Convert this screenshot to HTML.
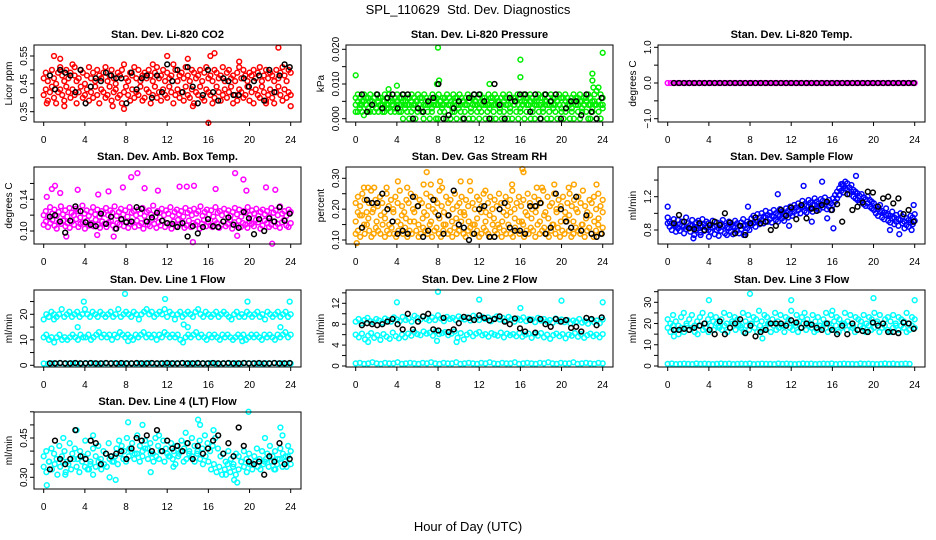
<!DOCTYPE html>
<html><head><meta charset="utf-8"><style>
html,body{margin:0;padding:0;background:#fff;}
svg{display:block;font-family:"Liberation Sans",sans-serif;}
</style></head><body>
<svg id="chart" width="936" height="540" viewBox="0 0 936 540">
<rect x="0" y="0" width="936" height="540" fill="#fff"/>
<text x="468" y="14" text-anchor="middle" font-size="13">SPL_110629&#160; Std. Dev. Diagnostics</text>
<text x="468" y="531" text-anchor="middle" font-size="13">Hour of Day (UTC)</text>
</svg>
<script>
// ---- data (values per panel) ----
const co2A=[.47,.49,.46,.48,.50,.47,.45,.49,.51,.48,.46,.50,.47,.49,.52,.48,.46,.47,.50,.49,.45,.48,.51,.47,.49,.46,.50,.48,.47,.49,.51,.46,.48,.50,.47,.45,.49,.48,.50,.52,.47,.46,.49,.48,.51,.47,.50,.46,.48,.49,.47,.50,.48,.46,.49,.51,.47,.48,.50,.46,.49,.47,.48,.52,.50,.46,.48,.49,.47,.51,.48,.46,.50,.49,.47,.48,.50,.46,.49,.51,.47,.48,.46,.50,.49,.47,.48,.51,.46,.49,.50,.47,.48,.46,.49,.51,.47,.50,.48,.46,.49,.48,.50,.47,.49,.51,.46,.48,.50,.47,.49,.48,.46,.50,.47,.49,.51,.48,.46,.50,.49];
const co2B=[.41,.43,.39,.42,.44,.40,.38,.42,.43,.41,.39,.44,.42,.40,.43,.41,.38,.42,.44,.40,.41,.43,.39,.42,.40,.44,.41,.38,.43,.42,.40,.41,.44,.39,.42,.43,.40,.41,.38,.42,.44,.41,.39,.43,.40,.42,.41,.44,.39,.40,.43,.42,.38,.41,.44,.40,.42,.39,.43,.41,.40,.44,.42,.38,.41,.43,.40,.42,.39,.44,.41,.40,.43,.38,.42,.41,.44,.40,.39,.43,.42,.41,.38,.40,.44,.42,.39,.41,.43,.40,.42,.44,.38,.41,.39,.43,.42,.40,.41,.44,.39,.42,.38,.43,.41,.40,.44,.42,.39,.41,.43,.40,.38,.42,.44,.41,.39,.43,.40,.42,.41];
const co2OutT=[1,1.6,0.3,2,3,6.7,7.8,10.6,12,14,16,16.2,16.6,22.8,24,19,14.5,21.6];
const co2OutV=[.55,.54,.38,.37,.51,.37,.36,.52,.55,.54,.31,.55,.56,.58,.37,.53,.37,.38];
const co2Blk=[.48,.43,.50,.49,.48,.42,.50,.38,.44,.47,.46,.49,.48,.47,.47,.38,.49,.43,.47,.48,.40,.48,.42,.52,.46,.50,.42,.51,.44,.38,.41,.50,.42,.39,.47,.46,.41,.41,.47,.44,.46,.48,.39,.50,.42,.48,.52,.51];

const presA=[.006,.007,.006,.005,.007,.006,.006,.007,.005,.006,.007,.006,.006,.005,.007,.006,.007,.006,.005,.006,.007,.006,.006,.007,.005,.006,.006,.007,.006,.005,.007,.006,.006,.007,.006,.005,.006,.007,.006,.006,.007,.005,.006,.006,.007,.006,.005,.007,.006,.006,.007,.006,.005,.006,.007,.006,.006,.007,.005,.006,.007,.006,.006,.005,.007,.006,.006,.007,.006,.005,.006,.007,.006,.006,.007,.005,.006,.006,.007,.006,.005,.007,.006,.006,.007,.006,.005,.006,.007,.006,.006,.007,.005,.006,.007,.006,.006,.005,.007,.006,.006,.007,.006,.005,.006,.007,.006,.006,.007,.005,.006,.006,.007,.006,.005,.007,.008,.009,.007,.006];
const presB=[.002,.002,.004,.002,.001,.004,.002,.002,.004,.002,.003,.002,.004,.002,.002,.004,.003,.002,.004,.002,.004,.002,.002,0,.004,.002,0,.002,.004,0,.002,.004,.002,0,.004,.002,0,.002,.004,0,0,.002,.004,.002,0,.004,0,.002,.002,0,.004,.002,0,.002,.004,0,.002,0,.004,.002,0,.002,.004,0,.002,.004,0,.002,0,.004,.002,0,.002,.004,0,.002,0,.004,.002,0,.002,.004,0,.002,.004,0,.002,0,.004,.002,0,.002,.004,0,.002,0,.004,.002,0,.004,.002,0,.002,.004,0,.002,0,.004,.002,0,.002,.004,.002,0,0,.002,.004,0,.002,0,.003];
const presC=[.004,.005,.003,.004,.005,.004,.003,.005,.004,.004,.003,.005,.004,.004,.005,.003,.004,.005,.004,.003,.005,.004,.004,.005,.003,.004,.004,.005,.003,.004,.005,.004,.003,.004,.005,.004,.004,.003,.005,.004,.004,.005,.003,.004,.005,.004,.004,.003,.005,.004,.003,.004,.005,.004,.004,.005,.003,.004,.005,.004,.003,.004,.005,.004,.004,.003,.005,.004,.004,.005,.003,.004,.005,.004,.004,.003,.005,.004,.005,.004,.003,.004,.005,.004,.004,.005,.003,.004,.005,.004,.004,.003,.005,.004,.004,.005,.003,.004,.005,.004,.003,.004,.005,.004,.004,.003,.005,.004,.004,.005,.003,.004,.005,.004,.004,.003,.005,.004,.005,.004,.004];
const presOutT=[0,3.2,4,8,8.1,16,16,23,23,23.1,24,7.9,13];
const presOutV=[.0125,.0085,.0095,.0205,.011,.017,.012,.013,.011,.009,.019,.010,.010];
const presBlk=[.007,.002,.004,.007,.003,.006,.007,.003,.007,.007,0,.003,.002,.005,.006,.010,0,.001,.003,.005,0,.006,.007,.007,.005,0,.010,.004,0,.006,.005,.007,.007,.002,.007,0,.007,.005,.007,0,.003,.005,.005,.001,.007,.002,0,.006];

const tempMag=[0,0,0,0,0,0,0,0,0,0,0,0,0,0,0,0,0,0,0,0,0,0,0,0,0,0,0,0,0,0,0,0,0,0,0,0,0,0,0,0,0,0,0,0,0,0,0,0,0,0,0,0,0,0,0,0,0,0,0,0,0,0,0,0,0,0,0,0,0,0,0,0,0,0,0,0,0,0,0,0];
const tempBlk=[0,0,0,0,0,0,0,0,0,0,0,0,0,0,0,0,0,0,0,0,0,0,0,0,0,0,0,0,0,0,0,0,0,0,0,0,0,0,0,0,0,0,0,0,0,0,0,0];

const ambA=[.120,.125,.118,.130,.122,.127,.119,.124,.131,.121,.126,.118,.129,.123,.120,.128,.125,.117,.132,.122,.126,.119,.124,.130,.121,.127,.118,.125,.122,.129,.120,.126,.123,.131,.119,.124,.128,.121,.126,.118,.130,.123,.125,.120,.127,.122,.129,.119,.124,.126,.121,.132,.118,.125,.123,.128,.120,.126,.122,.130,.119,.124,.127,.121,.125,.118,.129,.123,.126,.120,.128,.122,.125,.131,.119,.124,.127,.121,.126,.118,.130,.123,.125,.120,.128,.122,.126,.119,.124,.129,.121,.127,.118,.125,.123,.130,.120,.126,.122,.128,.119,.124,.127,.121,.125,.118,.129,.123,.126,.120,.131,.122,.125,.119,.127,.124];
const ambB=[.108,.112,.105,.110,.114,.107,.103,.111,.109,.113,.106,.110,.104,.112,.108,.115,.105,.109,.111,.103,.113,.107,.110,.106,.114,.108,.104,.112,.109,.105,.111,.113,.107,.103,.110,.108,.114,.106,.112,.104,.109,.111,.105,.113,.107,.110,.103,.112,.108,.106,.114,.109,.104,.111,.107,.113,.105,.110,.108,.103,.112,.106,.114,.109,.111,.104,.107,.113,.105,.110,.108,.112,.103,.109,.114,.106,.111,.107,.105,.113,.110,.104,.108,.112,.106,.109,.114,.103,.111,.107,.113,.105,.110,.108,.104,.112,.109,.106,.114,.111,.103,.107,.113,.110,.105,.108,.112,.106,.109,.104,.111,.114,.107,.105,.110];
const ambOutT=[0.3,0.8,1.1,1.6,2.2,3.3,5.3,6.3,7.7,8.5,9.1,9.8,11.1,13.2,13.9,14.6,16.7,18.6,18.8,19.4,19.7,21.6,22.2,22.5,14.5,6.8,5.2];
const ambOutV=[.143,.153,.157,.148,.093,.152,.146,.150,.155,.168,.173,.154,.151,.156,.156,.157,.153,.173,.094,.165,.151,.155,.084,.152,.086,.093,.095];
const ambBlk=[.118,.120,.112,.098,.113,.131,.125,.111,.108,.106,.122,.109,.118,.103,.115,.111,.112,.130,.128,.112,.117,.123,.113,.110,.109,.105,.110,.093,.106,.097,.105,.115,.106,.105,.112,.117,.108,.104,.124,.116,.096,.115,.100,.116,.112,.130,.113,.122];

const rhA=[.22,.24,.21,.25,.23,.19,.22,.26,.20,.23,.21,.24,.22,.19,.25,.21,.23,.20,.24,.22,.26,.21,.19,.23,.22,.25,.20,.24,.21,.23,.22,.19,.25,.21,.24,.20,.23,.22,.26,.21,.19,.24,.22,.23,.20,.25,.21,.22,.24,.19,.23,.21,.26,.22,.20,.24,.23,.21,.25,.19,.22,.24,.20,.23,.21,.25,.22,.19,.24,.21,.23,.26,.20,.22,.24,.21,.23,.19,.25,.22,.20,.24,.21,.23,.22,.26,.19,.24,.21,.22,.25,.20,.23,.21,.24,.19,.22,.25,.21,.23,.20,.24,.22,.26,.21,.19,.23,.22,.24,.20,.25,.21,.23];
const rhB=[.12,.13,.11,.14,.12,.15,.13,.11,.12,.14,.13,.12,.15,.11,.13,.12,.14,.12,.11,.13,.15,.12,.14,.11,.13,.12,.16,.13,.11,.12,.14,.13,.12,.15,.11,.13,.14,.12,.11,.13,.15,.12,.13,.11,.14,.12,.13,.16,.12,.11,.13,.14,.12,.15,.13,.11,.12,.14,.13,.12,.11,.15,.13,.12,.14,.11,.13,.12,.15,.12,.11,.14,.13,.12,.16,.11,.13,.12,.14,.13,.11,.15,.12,.13,.14,.12,.11,.13,.15,.12,.14,.11,.13,.12,.16,.13,.11,.12,.14,.13,.12,.15,.11,.13,.14,.12,.11,.13,.15,.12,.14];
const rhC=[.16,.18,.15,.17,.19,.16,.18,.17,.15,.19,.16,.18,.17,.16,.19,.15,.17,.18,.16,.19,.17,.15,.18,.16,.17,.19,.18,.16,.15,.17,.19,.16,.18,.17,.15,.16,.18,.19,.17,.16,.15,.18,.17,.19,.16,.18,.17,.15,.19,.16,.17,.18,.16,.19,.15,.17,.18,.16,.17,.19];
const rhOutT=[0.1,0.2,0.6,0.8,1.2,1.8,3,4.1,5,6.6,6.9,7.3,8.2,8.4,10.2,11.1,12.6,15.2,16.2,16.3,17.6,18.1,19.3,20.7,21.2,23.4];
const rhOutV=[.09,.19,.18,.27,.27,.27,.27,.29,.27,.28,.32,.28,.29,.27,.29,.29,.26,.28,.33,.32,.27,.27,.28,.27,.28,.28];
const rhBlk=[.14,.23,.22,.22,.25,.20,.16,.12,.13,.12,.24,.21,.11,.13,.23,.18,.12,.18,.26,.15,.14,.10,.12,.20,.21,.11,.11,.20,.22,.14,.13,.13,.12,.21,.21,.22,.12,.14,.25,.20,.16,.14,.24,.13,.18,.12,.11,.12];

const flowA=[.95,.90,.88,.93,.85,.92,.87,.90,.84,.95,.88,.86,.92,.83,.89,.91,.85,.93,.87,.90,.88,.86,.91,.84,.89,.82,.88,.92,.85,.83,.90,.87,.84,.91,.88,.85,.89,.93,.86,.90,.88,.94,.97,.92,.99,.95,1.00,.96,1.03,.98,1.01,.97,1.04,1.00,.98,1.05,1.02,.99,1.06,1.03,1.08,1.05,1.10,1.07,1.12,1.08,1.15,1.11,1.09,1.16,1.13,1.10,1.18,1.14,1.12,1.17,1.15,1.19,1.13,1.16,1.12,1.18,1.22,1.26,1.30,1.35,1.33,1.38,1.36,1.31,1.34,1.28,1.26,1.24,1.21,1.23,1.19,1.17,1.20,1.16,1.14,1.12,1.08,1.05,1.10,1.03,1.01,1.06,.99,.97,1.02,.95,.98,.93,1.00,.96,.90,.94,.92,.97,.95,.99];
const flowB=[.88,.84,.80,.86,.78,.82,.79,.85,.76,.81,.83,.78,.85,.74,.80,.82,.77,.84,.79,.83,.80,.78,.83,.75,.80,.73,.79,.84,.76,.74,.82,.78,.75,.83,.79,.76,.81,.85,.77,.82,.80,.86,.88,.84,.90,.87,.92,.88,.95,.90,.93,.89,.96,.92,.90,.97,.94,.91,.98,.95,1.00,.97,1.02,.99,1.04,1.00,1.07,1.03,1.01,1.08,1.05,1.02,1.10,1.06,1.04,1.09,1.07,1.11,1.05,1.08,1.04,1.10,1.14,1.18,1.22,1.27,1.25,1.30,1.28,1.23,1.26,1.20,1.18,1.16,1.13,1.15,1.11,1.09,1.12,1.08,1.06,1.04,1.00,.97,1.02,.95,.93,.98,.91,.89,.94,.87,.90,.85,.92,.88,.82,.86,.84,.89,.87,.91];
const flowOutT=[0,2.5,3.2,4,7.4,7.8,10.7,13.2,15,16.1,15.5,17,18.3,21.6,22.5,23.7,23.9,11.8,14];
const flowOutV=[1.08,.70,.74,.72,.74,1.08,1.23,1.33,1.38,.82,.94,1.35,1.45,.80,.75,.80,1.10,.85,.90];
const flowBlk=[.88,.98,.90,.82,.81,.88,.80,.86,.90,.86,1.00,.89,.76,.85,.74,.88,.95,.88,.90,.80,.85,1.04,.97,1.07,.93,1.10,.94,1.06,1.03,1.10,1.14,1.04,1.11,.90,1.23,1.04,1.08,1.13,1.26,1.25,1.08,1.18,1.20,1.12,1.18,.99,1.04,.90];

const l1High=[18,20,19,21,20,19,20,22,19,20,21,19,20,21,19,20,22,20,19,21,20,19,21,20,19,20,21,19,20,22,19,20,21,20,19,21,20,18,20,21,22,20,21,19,20,21,20,22,19,21,20,18,20,21,19,20,21,20,19,21,22,20,19,21,20,19,20,21,19,20,21,20,19,18,20,21,19,20,19,21,20,19,20,21,19,20,18,21,20,19,20,21,19,20,21,19,20];
const l1Mid=[11,12,10,11,9,11,12,10,11,10,11,12,11,10,12,11,11,12,10,11,12,13,11,12,11,12,10,12,11,13,12,11,12,11,10,12,11,12,13,11,12,11,12,10,12,11,13,12,11,12,11,12,10,9,11,12,11,12,13,11,12,11,10,12,11,12,11,10,12,11,12,11,10,11,12,11,12,10,11,12,11,12,11,10,12,11,12,11,10,12,11,12,13,11,12];
const l1Zero=[0.7,0.6,0.8,0.7,0.9,0.6,0.7,0.8,0.7,0.6,0.9,0.7,0.8,0.6,0.7,0.8,0.7,0.9,0.6,0.7,0.8,0.7,0.6,0.8,0.7,0.9,0.7,0.6,0.8,0.7,0.7,0.8,0.6,0.9,0.7,0.8,0.7,0.6,0.8,0.7,0.9,0.7,0.6,0.8,0.7,0.7,0.8,0.6,0.9,0.7,0.8,0.7,0.6,0.8,0.7,0.9,0.7,0.8,0.6,0.7];
const l1OutT=[3.3,3.9,7.9,11.8,13.6,14,19.8,23,23.9,1,8.2,19.3];
const l1OutV=[15,25,28,26,16,15,25,15,25,18,9.5,9.5];
const l1Blk=[0.8,0.8,0.9,0.8,0.8,0.9,0.8,0.8,0.9,0.8,0.8,0.9,0.8,0.8,0.9,0.8,0.8,0.9,0.8,0.8,0.9,0.8,0.8,0.9,0.8,0.8,0.9,0.8,0.8,0.9,0.8,0.8,0.9,0.8,0.8,0.9,0.8,0.8,0.9,0.8,0.8,0.9,0.8,0.8,0.9,0.8,0.8,0.9];

const l2High=[8.5,9,8.2,8.8,9.2,8.6,8.4,9,8.7,8.3,9.1,8.8,8.5,9.3,8.9,8.6,9.4,8.8,9.1,8.5,9.6,9.2,8.9,9.5,9,8.7,9.3,8.8,9.7,9.1,8.6,9.4,9,9.2,8.8,9.5,9.1,8.9,9.3,8.7,9.6,9.2,8.8,9.4,9,9.3,8.6,9.1,9.5,8.9,9.2,8.7,9.4,9,8.5,9.1,8.8,9.3,8.6,9,8.9,8.4,9.2,8.7,9,8.5,8.8,8.3,9.1,8.6,8.9,8.4,8.8,8.2,8.7,8.5,9,8.3,8.6,8.1,8.8,8.4,8.7,8.2,8.9];
const l2Mid=[6,5.5,6.2,5.1,5.8,6.3,5.4,5.9,5,6.1,5.6,5.2,6.4,5.7,5.3,6,5.5,6.2,5.8,6.5,6.1,5.9,6.6,6.2,6.4,5.8,6.7,6.1,6.3,6.5,5.9,6.2,6.6,5.4,6.3,5.1,6,6.4,5.7,6.2,6.5,5.9,6.1,5.6,6.3,6,5.8,6.4,5.5,6.2,5.9,6.1,5.7,6.3,5.6,6,6.2,5.4,6.1,5.8,6.3,5.5,6,5.2,5.9,6.2,5.7,6.1,5.3,6,5.8,6.3,5.6,6.1,5.4,5.9,6.2,5.7,6,5.5,6.1];
const l2Zero=[0.5,0.6,0.4,0.5,0.7,0.5,0.4,0.6,0.5,0.5,0.7,0.4,0.5,0.6,0.5,0.4,0.6,0.5,0.7,0.5,0.4,0.6,0.5,0.5,0.7,0.4,0.5,0.6,0.5,0.4,0.6,0.5,0.7,0.5,0.4,0.6,0.5,0.5,0.7,0.4,0.5,0.6,0.5,0.4,0.6,0.5,0.7,0.5,0.4,0.6,0.5,0.5,0.7,0.4,0.5,0.6,0.5,0.4,0.6,0.5];
const l2OutT=[4,8,12,16,20,24,7.9,9.8,1.2];
const l2OutV=[12.2,14.2,12.7,11.1,12.5,12.2,4.8,4.6,4.6];
const l2Blk=[7.8,8.2,8,7.8,8,8.5,9,8,7,10,7,8.5,9.5,10,7,6.8,9.2,6.5,7,8.2,9.4,9.2,8.8,9.7,9.2,8.7,9,9.5,8.5,8,9.1,7.2,6.6,8.8,6.4,9,8,7.5,9,8.5,8.8,7.3,7.5,6.6,9.2,9,7.8,9.3];

const l3A=[22,20,24,21,19,23,25,20,22,24,19,21,23,25,20,22,24,21,23,19,22,25,20,24,21,23,22,19,25,21,24,20,23,22,26,21,24,23,20,22,25,21,24,19,23,22,26,20,24,21,23,25,22,20,24,21,23,19,22,25,20,24,21,23,22,20,25,21,24,19,23,22,21,24,20,23,22,25,21,24,20,22,23,21,24,19,23,22,21,25,20,23,22];
const l3B=[18,16,19,17,15,18,16,19,17,18,16,15,19,17,18,16,19,17,20,18,17,19,16,18,20,17,19,18,16,19,17,20,18,16,19,17,18,20,16,19,17,18,19,16,20,18,17,19,16,18,20,17,19,18,16,17,19,18,20,16,18,17,19,16,18,20,17,19,18,16,17,19,18,16,19,17,18,20,16,18,19,17,16,18,20,17,19,18,16,17,19,18];
const l3Zero=[1,1.2,0.9,1,1.1,1,0.9,1.2,1,1.1,1,0.9,1,1.2,1,1.1,0.9,1,1.1,1,1.2,0.9,1,1.1,1,1,0.9,1.2,1,1.1,1,0.9,1,1.2,1,1.1,0.9,1,1.1,1,1.2,0.9,1,1.1,1,1,0.9,1.2,1,1.1,1,0.9,1,1.2,1,1.1,0.9,1,1.1,1];
const l3OutT=[4,8,12,16,20,24,0.6,9.2];
const l3OutV=[31,34,31,26,32,31,14,13];
const l3Blk=[17,17,17.5,17,18,19,20,17,15,21,15,18,20,22,15.5,19,14,16,17,20,20,20,19,21.5,20.5,18,20,19.5,18,17,20,17,15,19,15,20,17,16.5,16,20.5,19,20,16,16,15.5,20.5,20,17.5];

const l4A=[.38,.40,.36,.41,.39,.37,.42,.38,.40,.36,.43,.39,.41,.37,.40,.38,.44,.39,.36,.41,.38,.42,.37,.40,.39,.43,.38,.36,.41,.44,.42,.40,.45,.41,.43,.39,.46,.42,.40,.44,.41,.43,.39,.45,.42,.40,.44,.41,.38,.43,.40,.42,.39,.44,.41,.43,.40,.45,.42,.39,.44,.41,.46,.43,.40,.42,.45,.41,.38,.39,.36,.40,.37,.35,.39,.38,.36,.40,.37,.39,.35,.38,.41,.37,.40,.36,.39,.42,.38,.40,.37,.41,.39,.38,.42,.40];
const l4B=[.34,.32,.36,.33,.35,.31,.34,.36,.32,.35,.33,.37,.34,.32,.36,.34,.33,.35,.31,.34,.36,.33,.35,.34,.37,.36,.38,.35,.39,.37,.36,.38,.40,.37,.39,.36,.38,.41,.37,.39,.36,.38,.37,.40,.36,.39,.38,.37,.35,.38,.40,.36,.37,.39,.38,.36,.40,.37,.35,.38,.36,.33,.35,.32,.34,.31,.33,.35,.32,.34,.31,.33,.36,.34,.32,.35,.33,.36,.34,.33,.35,.37,.34,.36,.33,.35,.37,.34,.36,.38,.35];
const l4OutT=[0.3,1.9,2.1,3.2,4.4,4.8,6.4,7,8.2,9.6,10.4,11.2,12.6,13.8,15,15.2,16.5,17.7,18.5,18.8,19.9,21.5,22.5,23,23.2,23.6];
const l4OutV=[.27,.45,.31,.48,.33,.46,.30,.29,.51,.50,.32,.46,.34,.47,.52,.50,.48,.31,.29,.28,.55,.45,.33,.49,.46,.34];
const l4Blk=[.33,.44,.37,.35,.37,.48,.38,.37,.44,.43,.35,.39,.38,.39,.40,.37,.41,.45,.44,.46,.40,.48,.40,.44,.41,.42,.40,.43,.37,.42,.39,.41,.44,.46,.39,.43,.38,.49,.42,.36,.35,.36,.31,.38,.36,.43,.35,.37];

// tick labels per panel
const xTicks=[0,4,8,12,16,20,24];
const co2Ticks=[.35,.40,.45,.50,.55], co2Labels=["0.35","","0.45","","0.55"];
const presTicks=[0,.005,.010,.015,.020], presLabels=["0.000","","0.010","","0.020"];
const tempTicks=[-1,-.5,0,.5,1], tempLabels=["\u22121.0","","0.0","","1.0"];
const ambTicks=[.10,.12,.14,.16], ambLabels=["0.10","","0.14",""];
const rhTicks=[.10,.15,.20,.25,.30], rhLabels=["0.10","","0.20","","0.30"];
const flowTicks=[.8,1.0,1.2,1.4], flowLabels=["0.8","","1.2",""];
const l1Ticks=[0,5,10,15,20,25], l1Labels=["0","","10","","20",""];
const l2Ticks=[0,2,4,6,8,10,12,14], l2Labels=["0","","4","","8","","12",""];
const l3Ticks=[0,5,10,15,20,25,30,35], l3Labels=["0","","10","","20","","30",""];
const l4Ticks=[.30,.35,.40,.45,.50,.55], l4Labels=["0.30","","","0.45","",""];

// ---- drawing ----
const NS="http://www.w3.org/2000/svg";
const svg=document.getElementById('chart');
const colL=[34,346,658], rowT=[45,167,290,412], BW=267, BH=77;
function mk(tag,attrs,parent){const e=document.createElementNS(NS,tag);for(const k in attrs)e.setAttribute(k,attrs[k]);parent.appendChild(e);return e;}

function panel(p){
  const L=colL[p.col], T=rowT[p.row], B=T+BH;
  const g=mk('g',{},svg);
  
  
  const xs=t=>L+9.7+t*(247/24);
  const ys=v=>p.ref[1]+(v-p.ref[0])*(p.ref[3]-p.ref[1])/(p.ref[2]-p.ref[0]);
  const pts=mk('g',{fill:'none','stroke-width':1.5},g);
  
  
  function dot(t,v,c){
    const cEl=mk('circle',{cx:xs(t).toFixed(1),cy:ys(v).toFixed(1),r:2.4,stroke:c},pts);
    
    
  }
  p.series.forEach(s=>{
    if(s.t){ s.v.forEach((v,i)=>dot(s.t[i],v,s.c)); }
    else { const n=s.v.length, a=s.t0, b=s.t1; s.v.forEach((v,i)=>dot(a+i*(b-a)/(n-1),v,s.c)); }
  });
  const box=mk('rect',{x:L,y:T,width:BW,height:BH,fill:'none',stroke:'#000','stroke-width':1},g);
  
  
  const ttl=mk('text',{x:L+BW/2,y:T-7,'text-anchor':'middle','font-size':11,'font-weight':'bold'},g);
  ttl.textContent=p.title;
  
  
  const xa=mk('g',{},g);
  
  
  mk('line',{x1:xs(0),x2:xs(24),y1:B,y2:B,stroke:'#000'},xa);
  xTicks.forEach(t=>{
    mk('line',{x1:xs(t),x2:xs(t),y1:B,y2:B+4,stroke:'#000'},xa);
    const tx=mk('text',{x:xs(t),y:B+21,'text-anchor':'middle','font-size':10},xa);
    tx.textContent=String(t);
    
    
  });
  const ya=mk('g',{},g);
  
  
  p.ticks.forEach((v,i)=>{
    const y=ys(v);
    mk('line',{x1:L-4,x2:L,y1:y,y2:y,stroke:'#000'},ya);
    if(p.labels[i]){
      const tx=mk('text',{x:L-7,y:y,'text-anchor':'middle','font-size':10,transform:`rotate(-90 ${L-7} ${y})`},ya);
      tx.textContent=p.labels[i];
      
      
    }
  });
  const yl=mk('text',{x:L-22,y:T+BH/2,'text-anchor':'middle','font-size':10,transform:`rotate(-90 ${L-22} ${T+BH/2})`},g);
  yl.textContent=p.ylab;
  
  
}

const RED='#FF0000',GRN='#00EE00',MAG='#FF00FF',ORG='#FFA500',BLU='#0000FF',CYN='#00FFFF',BLK='#000000';
panel({name:'co2',col:0,row:0,title:'Stan. Dev. Li-820 CO2',ylab:'Licor ppm',ref:[.35,111.7,.55,56],ticks:co2Ticks,labels:co2Labels,
  series:[{v:co2A,t0:0,t1:24,c:RED},{v:co2B,t0:0,t1:24,c:RED},{v:co2OutV,t:co2OutT,c:RED},{v:co2Blk,t0:0.6,t1:23.9,c:BLK}]});
panel({name:'pressure',col:1,row:0,title:'Stan. Dev. Li-820 Pressure',ylab:'kPa',ref:[0,118.7,.02,49.3],ticks:presTicks,labels:presLabels,
  series:[{v:presA,t0:0,t1:24,c:GRN},{v:presB,t0:0,t1:24,c:GRN},{v:presC,t0:0,t1:24,c:GRN},{v:presOutV,t:presOutT,c:GRN},{v:presBlk,t0:0.6,t1:23.9,c:BLK}]});
panel({name:'li820-temp',col:2,row:0,title:'Stan. Dev. Li-820 Temp.',ylab:'degrees C',ref:[-1,118.7,1,47.3],ticks:tempTicks,labels:tempLabels,
  series:[{v:tempMag,t0:0,t1:24,c:MAG},{v:tempBlk,t0:0.6,t1:23.9,c:BLK}]});
panel({name:'amb-box-temp',col:0,row:1,title:'Stan. Dev. Amb. Box Temp.',ylab:'degrees C',ref:[.10,231,.14,199.3],ticks:ambTicks,labels:ambLabels,
  series:[{v:ambA,t0:0,t1:24,c:MAG},{v:ambB,t0:0,t1:24,c:MAG},{v:ambOutV,t:ambOutT,c:MAG},{v:ambBlk,t0:0.6,t1:23.9,c:BLK}]});
panel({name:'gas-stream-rh',col:1,row:1,title:'Stan. Dev. Gas Stream RH',ylab:'percent',ref:[.10,240,.30,178.3],ticks:rhTicks,labels:rhLabels,
  series:[{v:rhA,t0:0,t1:24,c:ORG},{v:rhB,t0:0,t1:24,c:ORG},{v:rhC,t0:0,t1:24,c:ORG},{v:rhOutV,t:rhOutT,c:ORG},{v:rhBlk,t0:0.6,t1:23.9,c:BLK}]});
panel({name:'sample-flow',col:2,row:1,title:'Stan. Dev. Sample Flow',ylab:'ml/min',ref:[.8,230,1.2,196.7],ticks:flowTicks,labels:flowLabels,
  series:[{v:flowA,t0:0,t1:24,c:BLU},{v:flowB,t0:0,t1:24,c:BLU},{v:flowOutV,t:flowOutT,c:BLU},{v:flowBlk,t0:0.6,t1:23.9,c:BLK}]});
panel({name:'line1-flow',col:0,row:2,title:'Stan. Dev. Line 1 Flow',ylab:'ml/min',ref:[0,365.3,20,314.3],ticks:l1Ticks,labels:l1Labels,
  series:[{v:l1High,t0:0,t1:24,c:CYN},{v:l1Mid,t0:0,t1:24,c:CYN},{v:l1Zero,t0:0,t1:24,c:CYN},{v:l1OutV,t:l1OutT,c:CYN},{v:l1Blk,t0:0.6,t1:23.9,c:BLK}]});
panel({name:'line2-flow',col:1,row:2,title:'Stan. Dev. Line 2 Flow',ylab:'ml/min',ref:[0,366,12,303.3],ticks:l2Ticks,labels:l2Labels,
  series:[{v:l2High,t0:0,t1:24,c:CYN},{v:l2Mid,t0:0,t1:24,c:CYN},{v:l2Zero,t0:0,t1:24,c:CYN},{v:l2OutV,t:l2OutT,c:CYN},{v:l2Blk,t0:0.6,t1:23.9,c:BLK}]});
panel({name:'line3-flow',col:2,row:2,title:'Stan. Dev. Line 3 Flow',ylab:'ml/min',ref:[0,366,30,302.3],ticks:l3Ticks,labels:l3Labels,
  series:[{v:l3A,t0:0,t1:24,c:CYN},{v:l3B,t0:0,t1:24,c:CYN},{v:l3Zero,t0:0,t1:23.5,c:CYN},{v:l3OutV,t:l3OutT,c:CYN},{v:l3Blk,t0:0.6,t1:23.9,c:BLK}]});
panel({name:'line4-flow',col:0,row:3,title:'Stan. Dev. Line 4 (LT) Flow',ylab:'ml/min',ref:[.30,477.3,.45,438],ticks:l4Ticks,labels:l4Labels,
  series:[{v:l4A,t0:0,t1:24,c:CYN},{v:l4B,t0:0,t1:24,c:CYN},{v:l4OutV,t:l4OutT,c:CYN},{v:l4Blk,t0:0.6,t1:23.9,c:BLK}]});
</script>
</body></html>
